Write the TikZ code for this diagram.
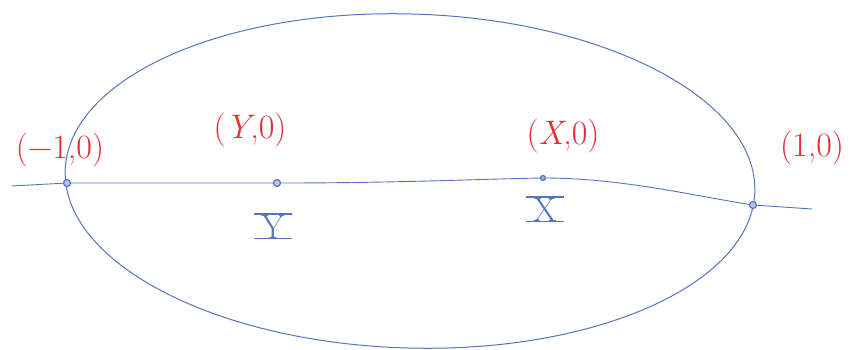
\documentclass[tikz,border=0pt]{standalone}
\usetikzlibrary{calc}
\definecolor{penblue}{RGB}{85,115,190}
\definecolor{penred}{RGB}{228,45,55}
\begin{document}
\begin{tikzpicture}[x=1pt,y=-1pt,
  pt/.style={circle,draw=penblue,fill=penblue!40,line width=1.2pt,inner sep=0pt,minimum size=7pt},
  redlab/.style={text=penred,font=\fontsize{34}{38}\selectfont},
  bluelab/.style={text=penblue,font=\fontsize{34}{38}\selectfont,inner sep=1pt},
  bar/.style={draw=penblue,line width=1.6pt},
  curve/.style={draw=penblue,line width=1pt}]
\useasboundingbox (0,0) rectangle (852,350);
% ellipse
\draw[curve] (410,181) ellipse[x radius=345, y radius=167, rotate=-1.8];
% points
\node[pt] (m1) at (67,183) {};
\node[pt] (y) at (277,183) {};
\node[pt,minimum size=5pt] (x) at (543,178) {};
\node[pt] (p1) at (753,205) {};
\coordinate (s) at (12,186);
\coordinate (e) at (812,209);
% axis
\draw[curve,line width=0.9pt] (s) -- (m1) -- (y) .. controls (400,183) and (480,179) .. (x.center) .. controls (620,178) and (690,195) .. (p1) -- (e);
% labels
\node[redlab] (lm1) at (60,150) {(\textminus1,0)};
\node[redlab] (ly) at (250,130) {(\textit{Y},0)};
\node[redlab] (lx) at (563,136) {(\textit{X},0)};
\node[redlab] (lp1) at (812,148) {(1,0)};
\node[bluelab] (ty) at (273,227) {Y};
\node[bluelab] (tx) at (545,210) {X};
\draw[bar] ([xshift=-6pt]ty.north west) -- ([xshift=6pt]ty.north east);
\draw[bar] ([xshift=-6pt]ty.base west) -- ([xshift=6pt]ty.base east);
\draw[bar] ([xshift=-6pt]tx.north west) -- ([xshift=6pt]tx.north east);
\draw[bar] ([xshift=-6pt]tx.base west) -- ([xshift=6pt]tx.base east);
\end{tikzpicture}
\end{document}
